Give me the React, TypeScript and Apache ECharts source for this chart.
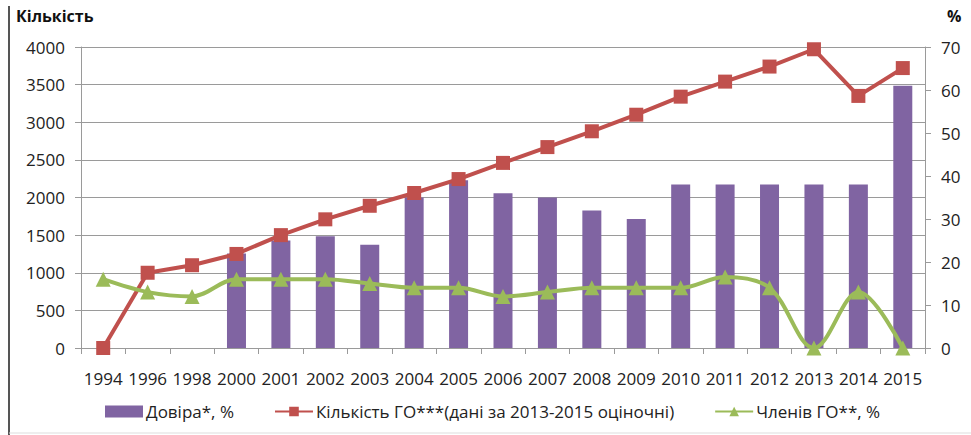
import React, { useEffect, useRef } from "react";
import * as echarts from "echarts";

const years = ["1994","1996","1998","2000","2001","2002","2003","2004","2005","2006","2007","2008","2009","2010","2011","2012","2013","2014","2015"];
const trust: (number | null)[] = [null, null, null, 22, 25, 26, 24, 35, 39, 36, 35, 32, 30, 38, 38, 38, 38, 38, 61];
const orgCount = [0, 1000, 1100, 1250, 1500, 1710, 1890, 2060, 2245, 2460, 2670, 2880, 3100, 3340, 3540, 3740, 3970, 3350, 3720];
const members = [16, 13, 12, 16, 16, 16, 15, 14, 14, 12, 13, 14, 14, 14, 16.5, 14, 0, 13, 0];
const leftTicks = [0, 4000, 500];
const rightTicks = [0, 70, 10];

const FONT = "Open Sans";
const TXT = "#222";
const GRID = "#9a9a9a";

export default function App() {
  const ref = useRef<HTMLDivElement>(null);
  useEffect(() => {
    const chart = echarts.init(ref.current!, null, { renderer: "svg" });
    chart.setOption({
      animation: false,
      backgroundColor: "#fff",
      textStyle: { fontFamily: FONT },
      grid: { left: 81, right: 46, top: 47, bottom: 87 },
      graphic: [
        { type: "line", shape: { x1: 9, y1: 6, x2: 9, y2: 435 }, style: { stroke: "#555", lineWidth: 2 } },
        { type: "line", shape: { x1: 9, y1: 433, x2: 971, y2: 433 }, style: { stroke: "#ddd", lineWidth: 1 } },
        { type: "text", left: 16, top: 8, style: { text: "Кількість", font: `bold 16px "${FONT}"`, fill: "#111" } },
        { type: "text", left: 947, top: 8, style: { text: "%", font: `bold 16px "${FONT}"`, fill: "#111" } },
      ],
      legend: {
        left: 100,
        top: 398,
        itemWidth: 38,
        itemHeight: 12,
        itemGap: 40,
        textStyle: { fontFamily: FONT, fontSize: 17, color: TXT, padding: [0, 0, 0, -2] },
        data: [
          { name: "Довіра*, %", icon: "rect" },
          { name: "Кількість ГО***(дані за 2013-2015 оціночні)" },
          { name: "Членів ГО**, %" },
        ],
      },
      xAxis: {
        type: "category",
        data: years,
        boundaryGap: true,
        axisLine: { lineStyle: { color: GRID, width: 1 } },
        axisTick: { show: true, length: 6, lineStyle: { color: GRID } },
        axisLabel: { fontFamily: FONT, fontSize: 17, color: TXT, margin: 22, interval: 0 },
      },
      yAxis: [
        {
          type: "value",
          min: leftTicks[0],
          max: leftTicks[1],
          interval: leftTicks[2],
          axisLine: { show: true, lineStyle: { color: GRID } },
          axisTick: { show: true, length: 6, lineStyle: { color: GRID } },
          splitLine: { lineStyle: { color: GRID, width: 1 } },
          axisLabel: { fontFamily: FONT, fontSize: 17, color: TXT, margin: 16, formatter: (v: number) => String(v) },
        },
        {
          type: "value",
          min: rightTicks[0],
          max: rightTicks[1],
          interval: rightTicks[2],
          position: "right",
          axisLine: { show: true, lineStyle: { color: GRID } },
          axisTick: { show: true, length: 6, lineStyle: { color: GRID } },
          splitLine: { show: false },
          axisLabel: { fontFamily: FONT, fontSize: 17, color: TXT, margin: 16, formatter: (v: number) => String(v) },
        },
      ],
      series: [
        {
          name: "Довіра*, %",
          type: "bar",
          yAxisIndex: 1,
          data: trust,
          barWidth: 19,
          itemStyle: { color: "#8064A2" },
        },
        {
          name: "Кількість ГО***(дані за 2013-2015 оціночні)",
          type: "line",
          yAxisIndex: 0,
          data: orgCount,
          symbol: "rect",
          symbolSize: 14,
          lineStyle: { color: "#C0504D", width: 4 },
          itemStyle: { color: "#C0504D" },
        },
        {
          name: "Членів ГО**, %",
          type: "line",
          yAxisIndex: 1,
          data: members,
          smooth: 0.35,
          symbol: "triangle",
          symbolSize: 15,
          lineStyle: { color: "#9BBB59", width: 4 },
          itemStyle: { color: "#9BBB59" },
        },
      ],
    });
    return () => chart.dispose();
  }, []);
  return <div ref={ref} style={{ width: 971, height: 435, position: "fixed", left: 0, top: 0 }} />;
}
